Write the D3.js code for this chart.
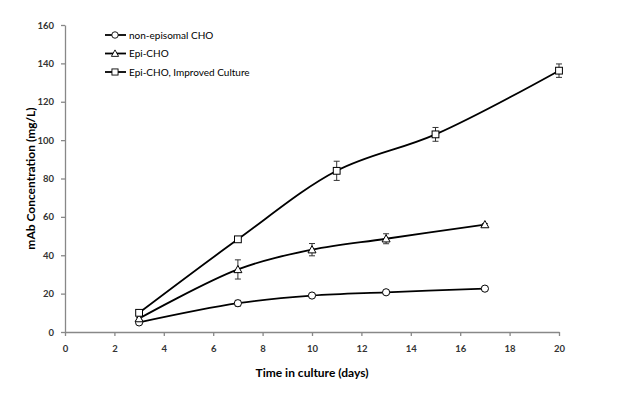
<!DOCTYPE html>
<html>
<head>
<meta charset="utf-8">
<script src="https://cdn.jsdelivr.net/npm/d3@7"></script>
<style>
body { margin: 0; background: #fff; }
#chart { width: 625px; height: 394px; }
</style>
</head>
<body>
<div id="chart"></div>
<script>
// Data
var seriesNames = ['non-episomal CHO', 'Epi-CHO', 'Epi-CHO, Improved Culture'];
var seriesMarkers = ['circle', 'triangle', 'square'];

var nonEpiDays = [3, 7, 10, 13, 17];
var nonEpiValues = [5, 15, 19, 20.7, 22.6];
var nonEpiErr = [0.5, 1.5, 0.8, 0.6, 0.8];

var epiDays = [3, 7, 10, 13, 17];
var epiValues = [7, 32.6, 42.9, 48.6, 56];
var epiErr = [0.5, 5, 3.2, 2.6, 0.5];

var improvedDays = [3, 7, 11, 15, 20];
var improvedValues = [10, 48.3, 84, 103, 136.2];
var improvedErr = [0.5, 1, 5, 3.6, 3.5];

var xTicks = [0, 2, 4, 6, 8, 10, 12, 14, 16, 18, 20];
var yTicks = [0, 20, 40, 60, 80, 100, 120, 140, 160];

var element = document.getElementById('chart');
var fullWidth = element.clientWidth;
var fullHeight = element.clientHeight;

var svg = d3.select('#chart')
	.append('svg')
	.attr('width', fullWidth)
	.attr('height', fullHeight);

var margin = {top: 25, right: 66, bottom: 62, left: 65};
var width = fullWidth - margin.left - margin.right;
var height = fullHeight - margin.top - margin.bottom;

var g = svg.append('g')
	.attr('transform', 'translate(' + margin.left + ',' + margin.top + ')');

var xScale = d3.scaleLinear().domain([0, 20]).range([0, width]);
var yScale = d3.scaleLinear().domain([0, 160]).range([height, 0]);

var font = 'Lato, "Open Sans", sans-serif';

// X axis
var xAxis = g.append('g')
	.attr('transform', 'translate(0,' + height + ')')
	.call(d3.axisBottom(xScale).tickValues(xTicks).tickSize(4).tickPadding(9).tickSizeOuter(0));

// Y axis
var yAxis = g.append('g')
	.call(d3.axisLeft(yScale).tickValues(yTicks).tickSize(4).tickPadding(7).tickSizeOuter(0));

[xAxis, yAxis].forEach(function(ax) {
	ax.select('.domain').attr('stroke', '#888').attr('stroke-width', 1.3);
	ax.selectAll('.tick line').attr('stroke', '#888').attr('stroke-width', 1.3);
	ax.selectAll('.tick text')
		.attr('fill', '#333')
		.style('font-family', font)
		.style('font-size', '9.5px')
		.style('font-weight', 'bold');
});

// Axis titles
svg.append('text')
	.attr('x', margin.left + width / 2)
	.attr('y', 377)
	.attr('text-anchor', 'middle')
	.style('font-family', font)
	.style('font-size', '12px')
	.style('font-weight', 'bold')
	.text('Time in culture (days)');

svg.append('text')
	.attr('transform', 'translate(35,' + (margin.top + height / 2) + ') rotate(-90)')
	.attr('text-anchor', 'middle')
	.style('font-family', font)
	.style('font-size', '12px')
	.style('font-weight', 'bold')
	.text('mAb Concentration (mg/L)');

var allSeries = [
	{days: nonEpiDays, values: nonEpiValues, err: nonEpiErr},
	{days: epiDays, values: epiValues, err: epiErr},
	{days: improvedDays, values: improvedValues, err: improvedErr}
];

var line = d3.line()
	.x(function(d) { return xScale(d.x); })
	.y(function(d) { return yScale(d.y); })
	.curve(d3.curveCatmullRom.alpha(0.5));

function drawMarker(sel, type) {
	if (type === 'circle') {
		sel.append('circle').attr('r', 3.6);
	} else if (type === 'square') {
		sel.append('rect').attr('x', -3.4).attr('y', -3.4).attr('width', 6.8).attr('height', 6.8);
	} else {
		sel.append('path').attr('d', 'M0,-4L4,3.2L-4,3.2Z');
	}
	sel.selectAll('*').attr('fill', '#fff').attr('stroke', '#000').attr('stroke-width', 1);
}

allSeries.forEach(function(s, i) {
	var pts = s.days.map(function(d, j) { return {x: d, y: s.values[j], e: s.err[j]}; });

	g.append('path')
		.datum(pts)
		.attr('d', line)
		.attr('fill', 'none')
		.attr('stroke', '#000')
		.attr('stroke-width', 1.8);

	// Error bars
	var eb = g.append('g').selectAll('g')
		.data(pts)
		.enter()
		.append('g')
		.attr('stroke', '#333')
		.attr('stroke-width', 1);
	eb.append('line')
		.attr('x1', function(d) { return xScale(d.x); })
		.attr('x2', function(d) { return xScale(d.x); })
		.attr('y1', function(d) { return yScale(d.y + d.e); })
		.attr('y2', function(d) { return yScale(d.y - d.e); });
	eb.append('line')
		.attr('x1', function(d) { return xScale(d.x) - 3; })
		.attr('x2', function(d) { return xScale(d.x) + 3; })
		.attr('y1', function(d) { return yScale(d.y + d.e); })
		.attr('y2', function(d) { return yScale(d.y + d.e); });
	eb.append('line')
		.attr('x1', function(d) { return xScale(d.x) - 3; })
		.attr('x2', function(d) { return xScale(d.x) + 3; })
		.attr('y1', function(d) { return yScale(d.y - d.e); })
		.attr('y2', function(d) { return yScale(d.y - d.e); });

	// Markers
	g.append('g').selectAll('g')
		.data(pts)
		.enter()
		.append('g')
		.attr('transform', function(d) { return 'translate(' + xScale(d.x) + ',' + yScale(d.y) + ')'; })
		.each(function() { drawMarker(d3.select(this), seriesMarkers[i]); });
});

// Legend
var legend = svg.append('g').attr('transform', 'translate(105,35)');
seriesNames.forEach(function(name, i) {
	var row = legend.append('g').attr('transform', 'translate(0,' + (i * 18.5) + ')');
	row.append('line')
		.attr('x1', 0).attr('x2', 21)
		.attr('stroke', '#000').attr('stroke-width', 1.8);
	var m = row.append('g').attr('transform', 'translate(10,0) scale(0.9)');
	drawMarker(m, seriesMarkers[i]);
	row.append('text')
		.attr('x', 24)
		.attr('y', 3.5)
		.style('font-family', font)
		.style('font-size', '10px')
		.text(name);
});
</script>
</body>
</html>
